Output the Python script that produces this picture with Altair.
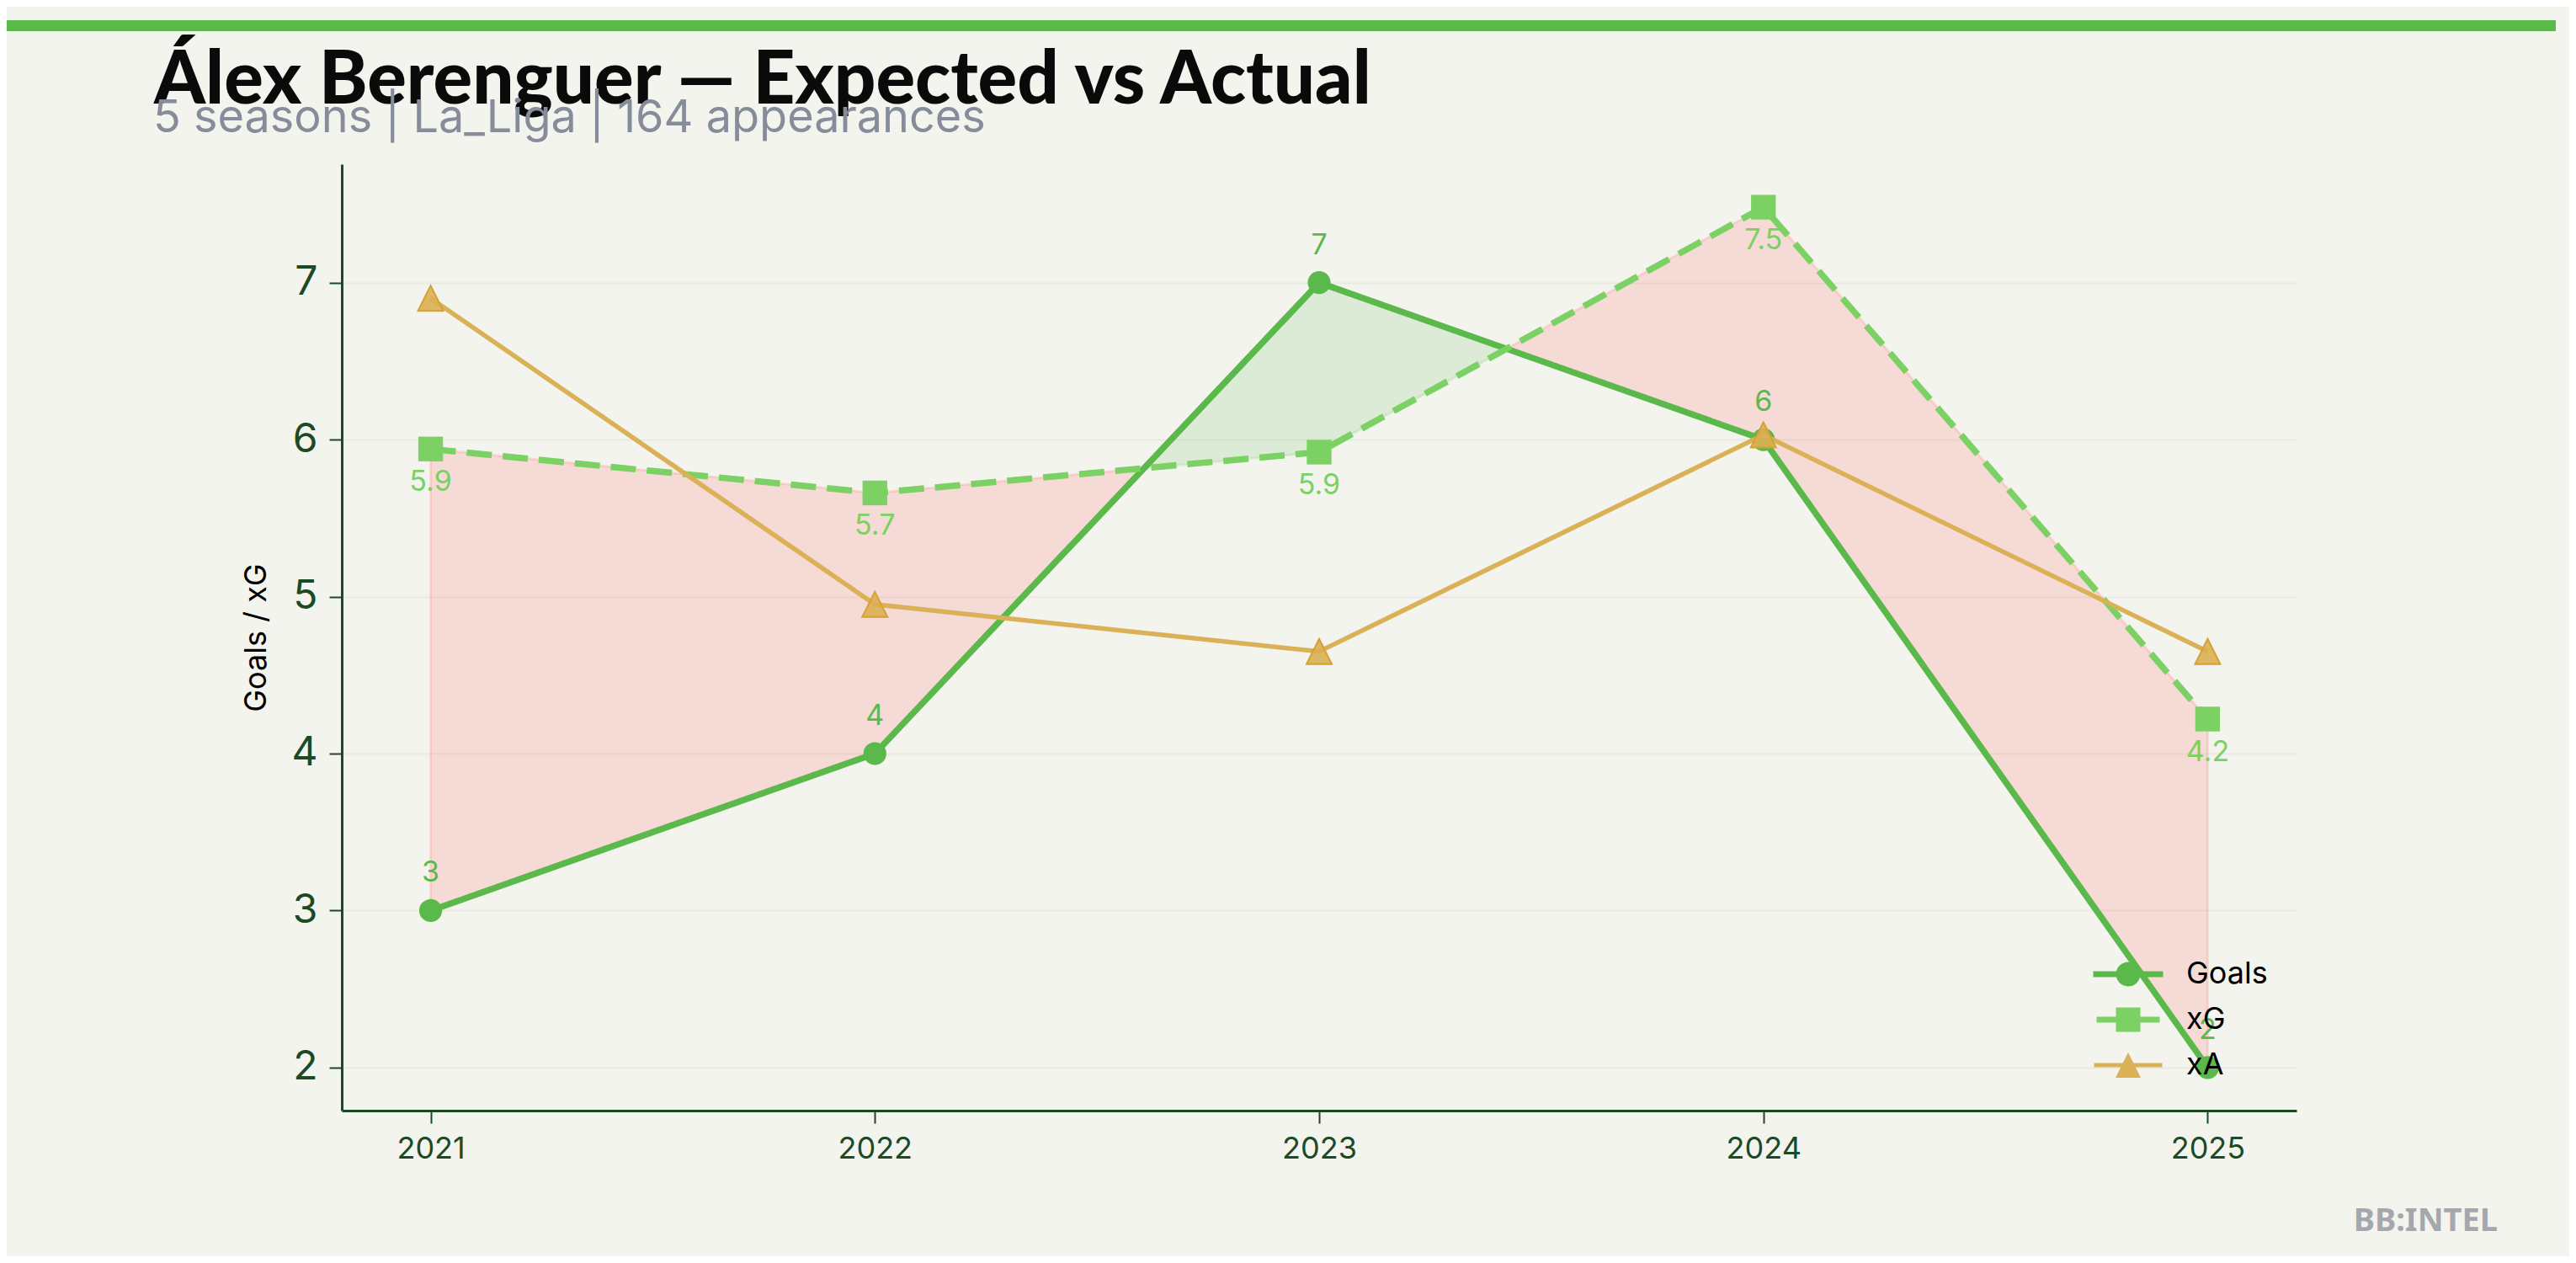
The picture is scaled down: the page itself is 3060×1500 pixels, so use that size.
import altair as alt
import pandas as pd

# ---------------- data ----------------
years = [2021, 2022, 2023, 2024, 2025]
goals = [3, 4, 7, 6, 2]
xg = [5.94, 5.66, 5.92, 7.48, 4.22]
xa = [6.90, 4.95, 4.65, 6.03, 4.65]

series_names = ["Goals", "xG", "xA"]
series_colors = ["#5ab94a", "#7bd163", "#dbb157"]

title_text = "Álex Berenguer — Expected vs Actual"
subtitle_text = "5 seasons | La_Liga | 164 appearances"
watermark_text = "BB:INTEL"
y_title = "Goals / xG"

AXIS_COLOR = "#1b4a25"
BG = "#f4f4ef"

# ---------------- frames ----------------
goals_df = pd.DataFrame({"year": years, "value": goals,
                         "label": [str(v) for v in goals]})
xg_df = pd.DataFrame({"year": years, "value": xg,
                      "label": [f"{v:.1f}" for v in xg]})
xa_df = pd.DataFrame({"year": years, "value": xa})

long_rows = []
for name, vals in zip(series_names, [goals, xg, xa]):
    for yr, v in zip(years, vals):
        long_rows.append({"year": yr, "value": v, "series": name})
long_df = pd.DataFrame(long_rows)

# fill regions between Goals and xG (split where they cross)
def kind_of(d):
    return "over" if d > 0 else "under"

fill_rows = []
region = 0
cur = kind_of(goals[0] - xg[0])
fill_rows.append(dict(region=region, year=years[0], g=goals[0], x=xg[0], kind=cur))
for i in range(len(years) - 1):
    d0 = goals[i] - xg[i]
    d1 = goals[i + 1] - xg[i + 1]
    if d0 * d1 < 0:
        t = d0 / (d0 - d1)
        cy = years[i] + t * (years[i + 1] - years[i])
        cv = goals[i] + t * (goals[i + 1] - goals[i])
        fill_rows.append(dict(region=region, year=cy, g=cv, x=cv, kind=cur))
        region += 1
        cur = kind_of(d1)
        fill_rows.append(dict(region=region, year=cy, g=cv, x=cv, kind=cur))
    fill_rows.append(dict(region=region, year=years[i + 1], g=goals[i + 1], x=xg[i + 1], kind=cur))
fill_df = pd.DataFrame(fill_rows)

# axis domains (matplotlib-style 5% margins)
all_vals = goals + xg + xa
lo, hi = min(all_vals), max(all_vals)
ypad = 0.05 * (hi - lo)
xpad = 0.05 * (years[-1] - years[0])

W, H = 2322, 1124


def X():
    return alt.X(
        "year:Q",
        scale=alt.Scale(domain=[years[0] - xpad, years[-1] + xpad], nice=False, zero=False),
        axis=alt.Axis(values=years, format="d", grid=False, labelFontSize=36,
                      labelPadding=13, tickSize=15, tickWidth=2,
                      domainWidth=3, domainColor=AXIS_COLOR, tickColor=AXIS_COLOR,
                      labelColor=AXIS_COLOR, labelFont="Inter"),
        title=None,
    )


def Y(field):
    return alt.Y(
        f"{field}:Q",
        scale=alt.Scale(domain=[lo - ypad, hi + ypad], nice=False, zero=False),
        axis=alt.Axis(values=[2, 3, 4, 5, 6, 7], grid=True, gridColor="#e9eae2",
                      gridWidth=2, labelFontSize=48, labelPadding=14, tickSize=15,
                      tickWidth=2, domainWidth=3, domainColor=AXIS_COLOR,
                      tickColor=AXIS_COLOR, labelColor=AXIS_COLOR, labelFont="Inter",
                      titleFont="Inter", titleFontSize=36, titleFontWeight="normal",
                      titleColor="#000000", titlePadding=22),
        title=y_title,
    )


# ---------------- layers ----------------
area_over = alt.Chart(fill_df).transform_filter("datum.kind == 'over'").mark_area(
    color="#5ab94a", fillOpacity=0.15, stroke="#5ab94a", strokeOpacity=0.15, strokeWidth=3
).encode(x=X(), y=Y("g"), y2="x:Q", detail="region:N")

area_under = alt.Chart(fill_df).transform_filter("datum.kind == 'under'").mark_area(
    color="#ff6b6b", fillOpacity=0.19, stroke="#ff6b6b", strokeOpacity=0.19, strokeWidth=3
).encode(x=X(), y=Y("g"), y2="x:Q", detail="region:N")

goals_line = alt.Chart(goals_df).mark_line(color=series_colors[0], strokeWidth=7.5).encode(
    x=X(), y=Y("value"))
goals_pts = alt.Chart(goals_df).mark_point(
    shape="circle", filled=True, size=740, color=series_colors[0], opacity=1
).encode(x=X(), y=Y("value"))

xg_line = alt.Chart(xg_df).mark_line(color=series_colors[1], strokeWidth=7.5,
                                     strokeDash=[30, 13]).encode(x=X(), y=Y("value"))
xg_pts = alt.Chart(xg_df).mark_point(
    shape="square", filled=True, size=860, color=series_colors[1], opacity=1
).encode(x=X(), y=Y("value"))

xa_line = alt.Chart(xa_df).mark_line(color=series_colors[2], strokeWidth=5.5).encode(
    x=X(), y=Y("value"))
xa_pts = alt.Chart(xa_df).mark_point(
    shape="M0,-1L1,1L-1,1Z", filled=True, size=900, fill="#dcb052", fillOpacity=0.9,
    stroke="#d6a133", strokeWidth=2, opacity=1
).encode(x=X(), y=Y("value"))

goals_lbl = alt.Chart(goals_df).mark_text(
    dy=-34, baseline="alphabetic", fontSize=34, font="Inter", color=series_colors[0]
).encode(x=X(), y=Y("value"), text="label:N")
xg_lbl = alt.Chart(xg_df).mark_text(
    dy=50, baseline="alphabetic", fontSize=34, font="Inter", color=series_colors[1]
).encode(x=X(), y=Y("value"), text="label:N")

# legend (line + marker symbols)
legend_paths = [
    "M-2.075,-0.175H2.075V0.175H-2.075Z M0.72,0A0.72,0.72,0,1,1,-0.72,0A0.72,0.72,0,1,1,0.72,0Z",
    "M-1.875,-0.175H1.875V0.175H-1.875Z M-0.725,-0.725H0.725V0.725H-0.725Z",
    "M-2.025,-0.13H2.025V0.13H-2.025Z M0,-0.75L0.75,0.75H-0.75Z",
]
leg = alt.Legend(title=None, orient="none", legendX=2102, legendY=942,
                 symbolSize=1600, symbolStrokeWidth=0, labelFontSize=36,
                 labelFont="Inter", labelColor="#000000", labelOffset=49,
                 rowPadding=16, padding=0, symbolOpacity=1)
legend_layer = alt.Chart(long_df).transform_filter("false").mark_point(
    filled=True, opacity=1
).encode(
    x=X(), y=Y("value"),
    color=alt.Color("series:N", scale=alt.Scale(domain=series_names, range=series_colors), legend=leg),
    shape=alt.Shape("series:N", scale=alt.Scale(domain=series_names, range=legend_paths), legend=leg),
)

# static decorations
one = pd.DataFrame({"t": [title_text], "s": [subtitle_text], "w": [watermark_text]})
top_bar = alt.Chart(one).mark_rule(color="#5ab94a", strokeWidth=13).encode(
    x=alt.value(-398), x2=alt.value(2630), y=alt.value(-164.5))
title_mark = alt.Chart(one).mark_text(
    align="left", baseline="alphabetic", fontSize=87, font="Lato", fontWeight=900,
    color="#0a0a0a").encode(x=alt.value(-223), y=alt.value(-72), text="t:N")
subtitle_mark = alt.Chart(one).mark_text(
    align="left", baseline="alphabetic", fontSize=54, font="Inter",
    color="#868c99").encode(x=alt.value(-224), y=alt.value(-38), text="s:N")
watermark_mark = alt.Chart(one).mark_text(
    align="right", baseline="alphabetic", fontSize=38, font="Noto Sans", fontWeight="bold",
    color="#a4a8ae").encode(x=alt.value(2561), y=alt.value(1267), text="w:N")

chart = alt.layer(
    area_under, area_over,
    goals_line, goals_pts,
    xg_line, xg_pts,
    xa_line, xa_pts,
    goals_lbl, xg_lbl,
    legend_layer,
    top_bar, title_mark, subtitle_mark, watermark_mark,
).properties(
    width=W, height=H,
    padding={"left": 398, "top": 187, "right": 324, "bottom": 173},
    autosize=alt.AutoSizeParams(type="none"),
    background=BG,
).configure_view(stroke=None)

chart.save("out.html", embed_options={"renderer": "svg", "actions": False})
